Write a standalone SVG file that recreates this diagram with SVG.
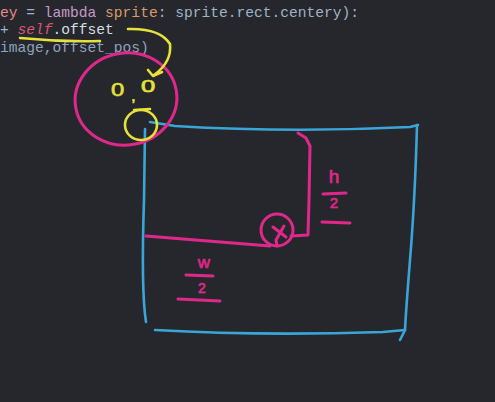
<svg xmlns="http://www.w3.org/2000/svg" width="495" height="402" viewBox="0 0 495 402">
<style>
.code{font-family:"Liberation Mono","DejaVu Sans Mono",monospace;font-size:14.6px}
.hand{font-family:"Liberation Sans","DejaVu Sans",sans-serif;stroke-width:0.6;stroke-linejoin:round}
.hp{fill:#e0288c;stroke:#e0288c}
.hy{fill:#e6e23a;stroke:#e6e23a}
.blue{fill:none;stroke:#3aa6d8;stroke-width:2.6;stroke-linecap:round;stroke-linejoin:round}
.pink{fill:none;stroke:#e0288c;stroke-width:3;stroke-linecap:round;stroke-linejoin:round}
.yel{fill:none;stroke:#e6e23a;stroke-width:2.6;stroke-linecap:round;stroke-linejoin:round}
</style>
<rect width="495" height="402" fill="#26272c"/>
<g id="code">
<text class="code" x="0" y="17"><tspan fill="#e58a8e">ey</tspan><tspan fill="#9fb2c9"> = </tspan><tspan fill="#c39ac9">lambda</tspan><tspan fill="#dc9a6c"> sprite</tspan><tspan fill="#9fb2c9">: sprite.rect.centery):</tspan></text>
<text class="code" x="0" y="34"><tspan fill="#9fb2c9">+ </tspan><tspan fill="#d9557a" font-style="italic">self</tspan><tspan fill="#d8dde3">.offset</tspan></text>
<text class="code" x="0" y="52" fill="#8ea3be">image,offset_pos)</text>
</g>
<g id="rect">
<path class="blue" d="M150,122 L175,126 Q290,133 410,127 L418,125"/>
<path class="blue" d="M417,125 Q415,200 410,260 Q406,310 405,330 L400,340"/>
<path class="blue" d="M155,330 Q260,336 383,332 L405,330"/>
<path class="blue" d="M145,129 L144,200 Q141,290 146,322"/>
</g>
<g id="origin">
<ellipse class="pink" cx="126" cy="99" rx="51" ry="46" transform="rotate(-10 126 99)"/>
<path class="yel" d="M20,38 Q60,42 100,41"/>
<path class="yel" d="M128,29 Q160,28 170,44 Q172,62 154,75"/>
<path class="yel" d="M148,70 L153,76 L162,72"/>
<text class="hand hy" x="0" y="0" font-size="19" transform="translate(111,96) scale(1.25,1)">0</text>
<text class="hand hy" x="131" y="101" font-size="17">,</text>
<text class="hand hy" x="0" y="0" font-size="16" transform="translate(141,92) scale(1.6,1)">0</text>
<ellipse class="yel" cx="141" cy="125" rx="16" ry="15"/>
<path class="yel" d="M134,110 L150,109"/>
</g>
<g id="center">
<circle class="pink" cx="277" cy="230" r="16"/>
<path class="pink" d="M273,227 L286,237 M284,226 L276,240 L277,246"/>
</g>
<g id="connectors">
<path class="pink" d="M146,236 L270,246"/>
<path class="pink" d="M291,236 L308,235 L309,200 L310,146 L306,138 L298,133"/>
</g>
<g id="h2">
<text class="hand hp" x="334" y="183" font-size="19" text-anchor="middle">h</text>
<path class="pink" d="M323,194 L346,193"/>
<text class="hand hp" x="334" y="208" font-size="15" text-anchor="middle">2</text>
<path class="pink" d="M322,222 L350,223"/>
</g>
<g id="w2">
<text class="hand hp" x="204" y="268" font-size="17" text-anchor="middle">w</text>
<path class="pink" d="M186,275 L213,276"/>
<text class="hand hp" x="202" y="293" font-size="14" text-anchor="middle">2</text>
<path class="pink" d="M178,299 L220,301"/>
</g>
</svg>
